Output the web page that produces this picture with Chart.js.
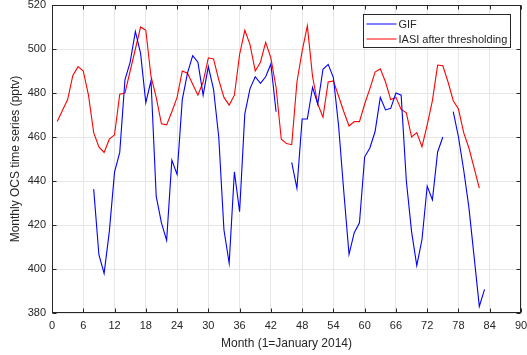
<!DOCTYPE html>
<html>
<head>
<meta charset="utf-8">
<script src="https://cdn.jsdelivr.net/npm/chart.js@4"></script>
<style>
  body { margin: 0; background: #fff; }
</style>
</head>
<body>
<canvas id="ocsChart" width="527" height="355"></canvas>
<script>
// month 1 = January 2014, one value per month
const firstMonth = 1;

const gifValues = [
  null, null, null, null, null, null, null,
  436.3, 406.5, 398, 417, 444, 453, 486, 494, 508, 498,
  475.6, 485.6, 433, 421, 413, 449.5, 443, 477, 489, 497,
  494, 479, 492, 481.7, 460, 417.7, 402.6, 444.2, 426, 470.5,
  482, 487.4, 484.4, 487.4, 493.2, 471.5, null, null, 448.5, 436.7,
  468.2, 468.2, 482.6, 474.9, 490.8, 493, 487, 465, 435, 406.7,
  416.5, 421, 451, 455, 462.5, 478, 472.3, 473, 480, 479,
  440, 417, 401.6, 413.4, 437.7, 431.4, 453.2, 460, null, 471.5,
  460, 445, 428, 405.6, 383, 390.7
];

const iasiValues = [
  467, 472, 477, 488, 492, 490, 479, 462, 455.5, 453,
  459, 461, 479.5, 480, 490, 500, 510, 508.5, 487.5, 478,
  466, 465.5, 471.5, 478, 490, 489, 484, 479, 485, 496,
  495.5, 486, 478, 474.5, 479, 497.5, 508.5, 502, 490, 494,
  503, 496, 482.5, 459, 457, 456.5, 485, 499, 510.5, 487.5,
  475, 469, 485, 485.5, 478.5, 471.5, 465, 467, 467, 475,
  482, 489.5, 491, 485, 477, 478, 472.5, 471, 460, 462,
  455.5, 465.5, 476.5, 492.7, 492.4, 485, 476.5, 472.7, 462, 455,
  446, 436.8
];

const xTicks = [0, 6, 12, 18, 24, 30, 36, 42, 48, 54, 60, 66, 72, 78, 84, 90];
const yTicks = [380, 400, 420, 440, 460, 480, 500, 520];
const seriesNames = ['GIF', 'IASI after thresholding'];
const seriesColors = ['#0000ff', '#ff0000'];

const toPoints = vals => vals.map((v, i) => ({ x: firstMonth + i, y: v }));

const fontFamily = '"Liberation Sans", Arial, Helvetica, sans-serif';
const axisColor = '#262626';

// MATLAB style box: frame, inward ticks, legend inside the axes
const matlabBox = {
  id: 'matlabBox',
  afterDatasetsDraw(chart) {
    const ctx = chart.ctx;
    const a = chart.chartArea;
    const xs = chart.scales.x, ys = chart.scales.y;
    const L = Math.round(a.left) + 0.5, R = Math.round(a.right) - 0.5;
    const T = Math.round(a.top) + 0.5, B = Math.round(a.bottom) - 0.5;
    ctx.save();
    ctx.strokeStyle = axisColor;
    ctx.lineWidth = 1;
    ctx.strokeRect(L, T, R - L, B - T);
    ctx.beginPath();
    xTicks.forEach(t => {
      const px = Math.round(xs.getPixelForValue(t)) + 0.5;
      ctx.moveTo(px, B); ctx.lineTo(px, B - 4);
      ctx.moveTo(px, T); ctx.lineTo(px, T + 4);
    });
    yTicks.forEach(t => {
      const py = Math.round(ys.getPixelForValue(t)) + 0.5;
      ctx.moveTo(L, py); ctx.lineTo(L + 4, py);
      ctx.moveTo(R, py); ctx.lineTo(R - 4, py);
    });
    ctx.stroke();

    // legend
    const lx = 363.5, ly = 14.5, lw = 147, lh = 33;
    ctx.fillStyle = '#fff';
    ctx.fillRect(lx, ly, lw, lh);
    ctx.strokeRect(lx, ly, lw, lh);
    ctx.font = '11px ' + fontFamily;
    ctx.textBaseline = 'middle';
    seriesNames.forEach((name, i) => {
      const y = ly + 9.5 + i * 15;
      ctx.strokeStyle = seriesColors[i];
      ctx.beginPath();
      ctx.moveTo(lx + 3, y); ctx.lineTo(lx + 33, y);
      ctx.stroke();
      ctx.fillStyle = axisColor;
      ctx.fillText(name, lx + 35, y + 0.5);
    });
    ctx.restore();
  }
};

new Chart(document.getElementById('ocsChart'), {
  type: 'line',
  data: {
    datasets: [
      { label: seriesNames[0], data: toPoints(gifValues), borderColor: seriesColors[0] },
      { label: seriesNames[1], data: toPoints(iasiValues), borderColor: seriesColors[1] }
    ]
  },
  options: {
    responsive: false,
    animation: false,
    spanGaps: false,
    layout: { padding: { left: 0, top: 5, right: 6, bottom: 0 } },
    elements: {
      line: { borderWidth: 1.1, tension: 0 },
      point: { radius: 0 }
    },
    plugins: { legend: { display: false }, tooltip: { enabled: false } },
    scales: {
      x: {
        type: 'linear',
        min: 0, max: 90,
        afterBuildTicks: s => { s.ticks = xTicks.map(v => ({ value: v })); },
        afterFit: s => { s.height = 42; s.paddingLeft = 0; s.paddingRight = 0; },
        grid: { color: '#e6e6e6', drawTicks: false },
        border: { display: false },
        ticks: { color: axisColor, font: { family: fontFamily, size: 11 }, padding: 6, maxRotation: 0, autoSkip: false },
        title: { display: true, text: 'Month (1=January 2014)', color: axisColor,
                 font: { family: fontFamily, size: 12 }, padding: { top: 2, bottom: 4 } }
      },
      y: {
        min: 380, max: 520,
        afterBuildTicks: s => { s.ticks = yTicks.map(v => ({ value: v })); },
        afterFit: s => { s.width = 52; s.paddingTop = 0; s.paddingBottom = 0; },
        grid: { color: '#e6e6e6', drawTicks: false },
        border: { display: false },
        ticks: { color: axisColor, font: { family: fontFamily, size: 11 }, padding: 6 },
        title: { display: true, text: 'Monthly OCS time series (pptv)', color: axisColor,
                 font: { family: fontFamily, size: 12 }, padding: { top: 8, bottom: 4 } }
      }
    }
  },
  plugins: [matlabBox]
});
</script>
</body>
</html>
